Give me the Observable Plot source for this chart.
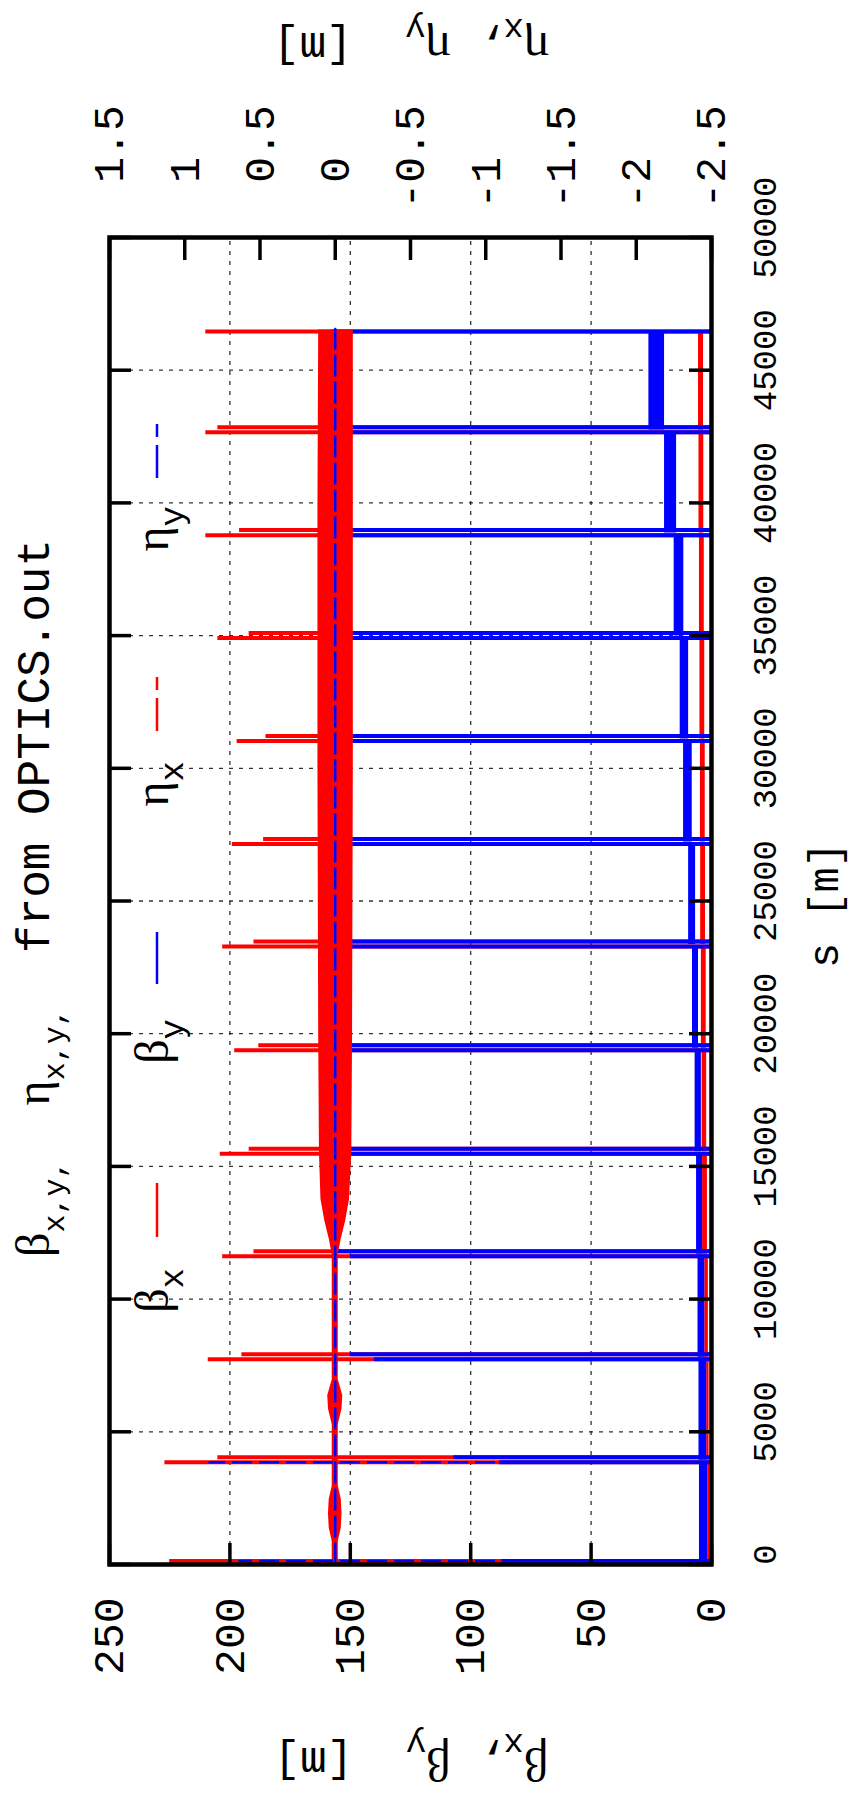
<!DOCTYPE html>
<html><head><meta charset="utf-8">
<script src="https://cdn.jsdelivr.net/npm/d3@7"></script>
<script src="https://cdn.jsdelivr.net/npm/@observablehq/plot@0.6"></script>
<style>
html,body{margin:0;padding:0;background:#fff;overflow:hidden;width:853px;height:1798px;}
#wrap{position:absolute;left:0;top:0;width:1798px;height:853px;transform-origin:0 0;transform:translate(0,1798px) rotate(-90deg);background:#fff;}
</style></head>
<body><div id="wrap"></div>
<script>
// ---------- data ----------
const sDomain = [0, 50000];
const betaDomain = [0, 250];
const etaDomain = [-2.5, 1.5];
const sTicks = [0, 5000, 10000, 15000, 20000, 25000, 30000, 35000, 40000, 45000, 50000];
const betaTicks = [0, 50, 100, 150, 200, 250];
const etaTicks = [-2.5, -2, -1.5, -1, -0.5, 0, 0.5, 1, 1.5];

// interaction regions (s in m) and spike peaks on either side of each IP
const irS     = [40, 3945, 7825, 11710, 15570, 19470, 23380, 27240, 31120, 35000, 38880, 42760, 46555];
const bxPeakL = [null, 227, 209, 203, 204, 198, 203, 199, 197, 205, 210, 210, 210];
const bxPeakR = [225, 205, 195, 190, 192, 188, 190, 186, 185, 192, 196, 205, null];
const byPeakL = [null, 88, 140, 150, 152, 154, 155, 156, 157, 158, 160, 162, 158];
const byPeakR = [87, 107, 150, 155, 156, 157, 157, 158, 158, 160, 162, 163, null];
const etaYPeakIR   = [0, 1];
const etaYPeakSide = [1, -1];
const etaYPeak     = [0.64, 0.84];

// arc bands between consecutive IRs (min / max of the fast oscillation)
const bxLo = [0.8, 1.0, 1.3, 1.7, 2.0, 2.2, 2.5, 2.6, 2.8, 3.0, 3.2, 3.3];
const bxHi = [1.6, 2.0, 2.8, 3.7, 3.9, 4.2, 4.5, 4.6, 4.8, 5.0, 5.2, 5.4];
const byLo = [1.6, 2.0, 2.8, 3.7, 4.2, 5.4, 6.6, 8.0, 9.5, 11.5, 14.5, 19.5];
const byHi = [5.0, 5.2, 5.6, 6.2, 6.8, 7.9, 9.5, 11.6, 13.0, 15.5, 19.5, 26.0];

// horizontal dispersion envelope (eta_x, m)
const etaS  = [40, 900, 1400, 1950, 2500, 3000, 3945, 5300, 5900, 6400, 7000, 7825, 11710, 12300, 13000, 13800, 15570, 20000, 30000, 40000, 46555];
const etaLo = [-0.02, -0.02, -0.04, -0.045, -0.04, -0.02, -0.02, -0.02, -0.045, -0.05, -0.02, -0.02, -0.02, -0.04, -0.07, -0.095, -0.11, -0.115, -0.12, -0.12, -0.12];
const etaHi = [0.02, 0.02, 0.04, 0.045, 0.04, 0.02, 0.02, 0.02, 0.045, 0.05, 0.02, 0.02, 0.02, 0.04, 0.07, 0.095, 0.105, 0.11, 0.115, 0.115, 0.11];
// vertical dispersion (eta_y, m)
const etaYS = [40, 46555];
const etaYV = [0, 0];

// ---------- layout / style ----------
const W = 1798, H = 853;
const mL = 233, mR = 238, mT = 109, mB = 142;
const frameW = W - mL - mR, frameH = H - mT - mB;
const tickLen = 22;
const irHalf = 95;   // m, half separation of the two IR sides
const irCore = 20;   // m, empty core at the IP
const RED = "#ff0000", BLUE = "#0000ff";
const mono = "'Liberation Mono', 'DejaVu Sans Mono', monospace";
const serif = "'Liberation Serif', 'DejaVu Serif', serif";

const toBeta = e => betaDomain[0] + (e - etaDomain[0]) * (betaDomain[1] - betaDomain[0]) / (etaDomain[1] - etaDomain[0]);
const fromBeta = b => etaDomain[0] + (b - betaDomain[0]) * (etaDomain[1] - etaDomain[0]) / (betaDomain[1] - betaDomain[0]);

const arcRows = (lo, hi) => irS.slice(0, -1).flatMap((s0, k) => [
  {arc: k, s: s0 + irCore, lo: lo[k], hi: hi[k]},
  {arc: k, s: irS[k + 1] - irCore, lo: lo[k], hi: hi[k]}
]);
const irRows = (pL, pR) => irS.flatMap((s, k) => [
  pL[k] != null ? {s: s - irHalf, peak: pL[k]} : null,
  pR[k] != null ? {s: s + irHalf, peak: pR[k]} : null
]).filter(Boolean);
const etaRows = etaS.map((s, i) => ({s, lo: etaLo[i], hi: etaHi[i]}));
const etaYRows = etaYS.map((s, i) => ({s, e: etaYV[i]}));
const etaYSpikes = etaYPeakIR.map((k, i) => ({s: irS[k] + etaYPeakSide[i] * irHalf, peak: etaYPeak[i]}));

const fmtEta = b => {
  const e = Math.round(fromBeta(b) * 10) / 10;
  return e < 0 ? "-" + Math.abs(e) : "\u00a0" + e;
};

const chart = Plot.plot({
  width: W, height: H,
  marginLeft: mL, marginRight: mR, marginTop: mT, marginBottom: mB,
  style: {fontFamily: mono, color: "black", background: "white", overflow: "visible"},
  x: {domain: sDomain},
  y: {domain: betaDomain},
  marks: [
    Plot.gridX(sTicks.slice(1, -1), {stroke: "black", strokeOpacity: 0.8, strokeWidth: 1.3, strokeDasharray: "4,6"}),
    Plot.gridY(betaTicks.slice(1, -1), {stroke: "black", strokeOpacity: 0.8, strokeWidth: 1.3, strokeDasharray: "4,6"}),
    // beta_x
    Plot.areaY(arcRows(bxLo, bxHi), {x: "s", y1: "lo", y2: "hi", z: "arc", fill: RED}),
    Plot.ruleX(irRows(bxPeakL, bxPeakR), {x: "s", y1: 0, y2: "peak", stroke: RED, strokeWidth: 4}),
    // beta_y
    Plot.areaY(arcRows(byLo, byHi), {x: "s", y1: "lo", y2: "hi", z: "arc", fill: BLUE}),
    Plot.ruleX(irRows(byPeakL, byPeakR), {x: "s", y1: 0, y2: "peak", stroke: BLUE, strokeWidth: 4}),
    // eta_x
    Plot.areaY(etaRows, {x: "s", y1: d => toBeta(d.lo), y2: d => toBeta(d.hi), fill: RED}),
    // eta_y
    Plot.ruleX(etaYSpikes, {x: "s", y1: 0, y2: d => toBeta(d.peak), stroke: BLUE, strokeWidth: 2.5, strokeDasharray: "20,7"}),
    Plot.lineY(etaYRows, {x: "s", y: d => toBeta(d.e), stroke: BLUE, strokeWidth: 2.5, strokeDasharray: "20,7"}),
    // inward ticks
    Plot.tickY(betaTicks, {y: d => d, insetRight: frameW - tickLen, stroke: "black", strokeWidth: 3.5}),
    Plot.tickY(etaTicks.map(toBeta), {y: d => d, insetLeft: frameW - tickLen, stroke: "black", strokeWidth: 3.5}),
    Plot.tickX(sTicks, {x: d => d, insetTop: frameH - tickLen, stroke: "black", strokeWidth: 3.5}),
    Plot.tickX(sTicks, {x: d => d, insetBottom: frameH - tickLen, stroke: "black", strokeWidth: 3.5}),
    // tick labels
    Plot.axisY(betaTicks, {anchor: "left", tickSize: 0, tickPadding: 33, fontSize: 43, fontFamily: mono, label: null, tickFormat: d => String(d)}),
    Plot.axisY(etaTicks.map(toBeta), {anchor: "right", tickSize: 0, tickPadding: 29, fontSize: 43, fontFamily: mono, label: null, tickFormat: fmtEta}),
    Plot.axisX(sTicks, {anchor: "bottom", tickSize: 0, tickPadding: 40, fontSize: 34, fontFamily: mono, dx: 10, label: null, tickFormat: d => String(d)}),
    Plot.frame({stroke: "black", strokeWidth: 4.5})
  ]
});

document.getElementById("wrap").appendChild(chart);

// ---------- rich text (titles, axis labels, key) ----------
const svg = d3.select(chart);
function rich({x, y, anchor = "start", rotate = 0, subDy = 14, parts}) {
  const t = svg.append("text")
    .attr("transform", `translate(${x},${y})` + (rotate ? ` rotate(${rotate})` : ""))
    .attr("text-anchor", anchor).attr("fill", "black");
  let off = 0;
  for (const p of parts) {
    const target = p.sub ? subDy : 0;
    t.append("tspan").attr("font-family", p.font).attr("font-size", p.size)
      .attr("dy", target - off).text(p.t);
    off = target;
  }
  return t;
}
const G = (t) => ({t, font: serif, size: 48});
const S = (t, size = 34) => ({t, font: mono, size, sub: true});
const M = (t, size = 44) => ({t, font: mono, size});

// title
rich({x: 900, y: 49, anchor: "middle", subDy: 15, parts: [
  G("β"), S("x,y,", 30), M("\u00a0\u00a0", 46), G("η"), S("x,y,", 30), M("\u00a0\u00a0from OPTICS.out", 46)
]});
// s axis label
rich({x: 893, y: 838, anchor: "middle", parts: [M("s [m]", 42)]});
// left axis label
rich({x: 50, y: 411, anchor: "middle", rotate: -90, parts: [
  G("β"), S("x"), M(",\u00a0"), G("β"), S("y"), M("\u00a0\u00a0[m]")
]});
// right axis label
rich({x: 1765, y: 411, anchor: "middle", rotate: -90, parts: [
  G("η"), S("x"), M(",\u00a0"), G("η"), S("y"), M("\u00a0\u00a0[m]")
]});

// key
const keyY = 157;
const key = [
  {g: "β", s: "x", end: 530, x1: 561, x2: 615, color: RED, dash: null},
  {g: "β", s: "y", end: 779, x1: 814, x2: 866, color: BLUE, dash: null},
  {g: "η", s: "x", end: 1037, x1: 1067, x2: 1121, color: RED, dash: "33,8"},
  {g: "η", s: "y", end: 1292, x1: 1320, x2: 1374, color: BLUE, dash: "33,8"}
];
for (const k of key) {
  rich({x: k.end, y: 168, anchor: "end", subDy: 15, parts: [G(k.g), S(k.s)]});
  const l = svg.append("line").attr("x1", k.x1).attr("x2", k.x2).attr("y1", keyY).attr("y2", keyY)
    .attr("stroke", k.color).attr("stroke-width", 2.5);
  if (k.dash) l.attr("stroke-dasharray", k.dash);
}
</script>
</body></html>
